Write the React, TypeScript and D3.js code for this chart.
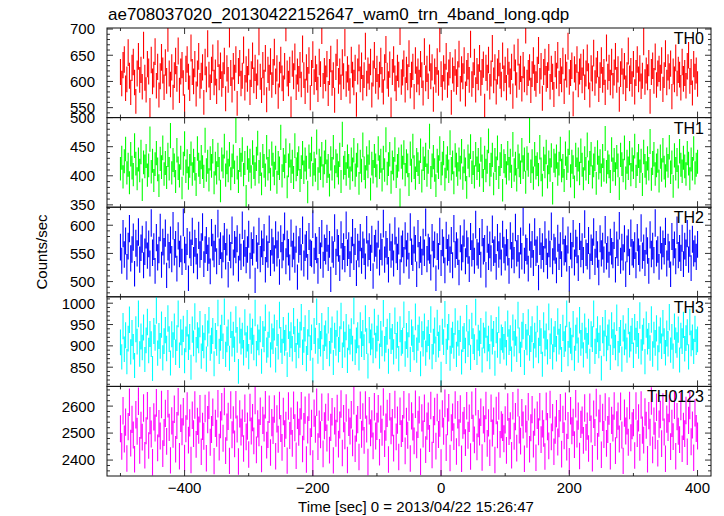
import React from "react";
import * as d3 from "d3";

const TITLE = "ae708037020_20130422152647_wam0_trn_4band_long.qdp";
const X_LABEL = "Time [sec] 0 = 2013/04/22 15:26:47";
const Y_LABEL = "Counts/sec";
const BIN_START = -500;
const BIN_END = 400;
const BIN_SIZE = 2;
const X_TICK_LABELS = [-400, -200, 0, 200, 400];

const TH0 = [
618,596,631,642,587,604,655,611,579,626,637,598,562,615,648,603,622,590,669,607,
584,633,619,545,641,600,613,657,592,628,574,610,646,621,589,636,601,683,615,594,
627,570,612,639,605,658,583,619,631,597,552,624,642,609,587,664,618,600,633,576,
615,648,592,611,627,560,637,604,672,613,589,622,645,598,617,581,653,608,630,595,
612,639,567,625,603,691,616,584,629,607,642,558,620,635,596,611,660,588,623,605,
637,579,614,649,602,626,591,617,676,609,583,631,598,644,565,622,607,638,593,618,
656,600,625,572,613,641,606,587,629,703,615,596,622,548,634,610,647,589,619,605,
631,594,662,612,581,627,603,640,569,616,651,599,624,608,585,637,614,698,592,620,
606,633,577,618,643,597,612,564,628,655,601,619,589,636,610,674,595,623,607,582,
641,613,598,626,556,619,645,604,630,588,612,667,596,621,609,637,574,615,650,601,
624,590,613,639,603,580,627,661,611,595,632,546,618,642,606,587,626,613,696,599,
617,634,584,622,608,653,592,613,628,571,640,604,619,598,633,612,578,657,606,624,
591,645,610,627,566,619,603,638,597,682,614,588,625,609,648,593,617,631,560,621,
605,636,599,614,652,586,623,610,640,576,616,629,603,671,595,612,637,584,620,608,
644,597,618,632,553,626,607,641,590,615,663,602,627,580,619,635,611,594,649,606,
622,588,638,613,600,628,572,645,617,593,656,609,624,586,631,604,699,598,616,627,
583,614,640,607,595,622,659,601,629,568,618,637,605,612,646,590,624,609,575,633,
611,650,596,620,604,639,581,627,613,667,599,616,630,557,623,608,642,594,619,628,
602,636,589,615,645,610,574,625,606,654,597,621,633,585,612,640,603,618,579,664,
609,626,598,637,592,617,648,603,623,566,614,638,600,629,587,612,658,606,620,595,
633,580,616,642,604,625,591,611,676,599,621,608,635,562,618,630,601,647,593,615,
624,607,640,585,612,653,598,627,610,634,571,619,604,645,596,622,613,588,637,605,
616,592,629,650,601,618,578,633,609,621,595];

const TH1 = [
412,431,398,425,446,405,419,388,437,414,402,452,421,395,428,409,441,376,423,416,
434,401,418,463,407,426,392,420,439,411,383,429,415,448,403,422,397,436,412,469,
405,427,418,390,444,413,400,431,379,421,455,408,425,396,417,438,403,426,412,385,
447,419,406,432,415,399,461,410,424,393,430,417,442,388,421,405,436,412,374,428,
416,451,401,423,409,437,395,418,433,406,478,414,390,427,419,445,402,422,365,431,
410,426,398,440,415,403,429,456,407,420,386,434,417,401,449,412,425,394,438,419,
404,431,389,422,413,466,400,427,416,443,381,418,435,408,424,397,452,411,420,430,
392,415,439,406,428,414,372,433,419,446,402,421,410,458,395,426,413,437,400,423,
441,408,417,384,430,412,449,398,425,418,405,436,390,471,414,422,403,433,417,396,
428,411,444,401,419,435,387,424,409,453,413,398,430,416,440,377,421,407,434,418,
400,447,415,426,393,431,410,462,404,420,437,389,423,412,445,399,417,428,359,433,
414,440,402,425,418,385,438,409,451,415,396,427,420,406,443,391,429,413,436,401,
424,468,397,418,432,410,383,426,415,447,404,421,439,394,416,430,408,457,412,423,
388,435,419,403,428,414,442,396,425,411,380,433,418,450,406,422,398,437,413,427,
401,445,416,392,431,409,424,460,402,419,436,386,427,413,448,397,420,434,375,425,
417,405,439,412,426,399,454,410,421,393,433,418,406,444,415,428,389,430,419,478,
408,425,396,437,414,420,402,449,411,384,429,416,441,398,423,410,435,370,426,418,
433,403,421,446,409,417,392,438,413,426,457,400,424,415,381,436,411,428,404,443,
419,395,430,412,453,406,422,437,398,418,429,387,440,414,425,401,434,410,464,407,
423,416,390,445,411,427,403,432,418,378,436,420,409,448,396,424,413,439,402,428,
415,451,399,420,434,408,426,385,441,417,405,430,412,459,394,422,437,403,418,426,
391,433,410,444,414,400,428,417,449,406,423,382,435,412,427,398,442,419,408,431,
416,403,439,421,395,428,412,447,405,419,424];

const TH2 = [
561,537,585,548,572,526,563,594,541,557,579,514,568,550,588,539,560,575,529,553,
583,546,567,532,604,551,562,519,578,543,556,596,530,570,554,586,511,561,547,574,
540,599,552,566,523,581,549,558,535,605,556,544,571,506,565,551,589,538,568,554,
527,582,548,562,597,531,557,573,542,555,518,587,561,549,577,536,603,553,564,529,
558,580,545,570,512,560,547,591,534,566,556,576,523,561,544,600,550,568,538,557,
584,528,564,552,574,502,559,546,589,540,567,553,578,521,558,548,593,533,570,555,
541,583,550,565,517,576,547,561,598,536,567,552,525,586,549,563,539,575,508,557,
571,543,591,532,560,566,526,580,551,549,602,537,562,556,519,573,546,585,530,560,
554,577,542,566,504,557,548,595,535,569,559,524,583,545,562,540,600,551,564,531,
556,587,544,571,515,561,549,578,537,565,553,527,592,550,562,542,575,510,559,568,
546,584,534,562,552,603,539,566,554,521,579,548,561,532,590,556,544,572,517,558,
567,538,581,550,563,528,597,553,542,574,559,513,585,547,557,535,570,551,605,540,
561,555,525,578,549,565,506,562,545,589,533,569,556,520,582,552,560,539,573,529,
594,548,564,553,516,576,543,558,586,536,567,555,522,580,550,562,537,601,552,546,
571,530,587,554,559,512,575,544,565,541,593,551,557,526,578,548,563,534,584,556,
543,569,552,519,581,547,563,538,596,550,559,529,572,545,606,537,560,554,523,579,
548,566,533,588,551,557,507,571,546,562,540,583,553,528,567,549,598,536,561,555,
520,577,544,564,531,590,552,558,541,574,505,563,547,585,534,568,556,524,580,549,
562,538,602,551,545,573,527,560,553,588,535,566,548,516,576,550,563,539,592,545,
557,530,570,554,547,582,521,565,551,599,537,561,543,576,513,558,569,535,586,552,
548,564,529,578,553,541,595,546,560,533,572,555,519,583,549,563,538,604,550,557,
526,574,545,567,554,589,532,561,548,513,580,552,565,536,591,547,559,542,577,531,
563,551,585,539,568,524,575,550,558,544,566];

const TH3 = [
908,874,946,892,925,863,917,961,886,930,898,854,939,910,975,881,922,896,943,868,
913,956,889,928,904,847,935,919,983,883,923,900,950,872,911,937,894,964,916,860,
927,902,945,885,918,975,878,932,908,940,865,915,953,897,921,850,938,906,969,891,
925,913,951,876,918,901,944,869,929,960,895,912,935,858,923,907,977,887,919,942,
899,980,880,915,931,871,949,905,926,892,962,914,840,936,910,924,884,955,902,917,
875,945,912,933,896,977,882,920,908,939,864,928,915,966,890,903,950,879,922,911,
943,867,930,898,972,914,887,937,907,919,856,947,904,925,893,958,916,877,933,901,
926,967,885,914,941,870,909,953,895,920,843,935,912,980,888,923,905,946,873,918,
929,899,960,882,912,938,861,924,907,952,891,916,970,878,927,903,944,866,920,910,
934,894,982,885,913,925,872,948,904,930,897,964,911,853,937,908,922,889,956,901,
917,942,876,928,906,976,893,914,933,864,946,911,921,886,959,900,926,870,939,907,
912,973,881,923,902,951,868,931,916,896,968,890,919,938,858,927,905,945,883,915,
930,898,962,875,910,936,892,954,903,918,834,933,909,974,887,921,944,871,912,926,
900,957,880,929,907,940,862,916,923,889,965,904,932,873,947,911,897,979,885,919,
906,935,867,924,913,950,894,917,875,941,910,928,859,937,902,961,888,920,914,898,
927,884,952,909,918,869,943,905,931,892,972,913,880,926,946,861,921,908,955,895,
916,939,877,924,903,963,889,930,911,857,948,906,922,886,968,899,934,874,915,928,
893,957,910,921,868,942,904,917,975,882,926,912,896,951,871,919,936,890,960,907,
924,879,945,913,900,933,864,927,916,975,887,911,939,901,918,848,937,906,953,894,
920,931,873,948,909,925,896,966,882,914,930,869,941,908,922,890,958,903,917,935,
878,944,912,928,900,971,886,919,934,863,950,910,923,895,962,881,926,907,941,872,
915,936,899,953,911,884,929,905,967,890,921,876,945,913,902,938,867,924,911,949,
893,918,932,874,956,906,920,887,940,909,915];

const TH0123 = [
2516,2451,2583,2478,2541,2406,2524,2614,2463,2551,2493,2403,2568,2507,2618,2436,2529,2485,2593,2418,
2509,2601,2454,2546,2497,2392,2560,2519,2612,2445,2535,2489,2606,2424,2502,2573,2469,2609,2521,2399,
2545,2496,2588,2440,2528,2616,2414,2555,2505,2579,2408,2516,2600,2474,2538,2400,2566,2498,2604,2458,
2543,2511,2590,2431,2525,2488,2591,2407,2550,2603,2466,2513,2577,2396,2536,2499,2609,2448,2531,2598,
2481,2617,2435,2522,2562,2397,2604,2494,2549,2460,2605,2515,2395,2571,2504,2537,2443,2592,2486,2526,
2421,2595,2508,2557,2471,2621,2438,2534,2501,2581,2404,2547,2519,2605,2455,2495,2588,2428,2539,2510,
2589,2414,2553,2477,2602,2517,2447,2580,2498,2529,2398,2600,2491,2544,2462,2603,2520,2416,2566,2503,
2542,2601,2441,2524,2585,2402,2512,2596,2468,2536,2388,2574,2514,2614,2450,2533,2494,2596,2423,2527,
2558,2482,2597,2437,2521,2579,2399,2545,2499,2591,2459,2530,2608,2426,2554,2490,2593,2400,2540,2508,
2568,2464,2620,2442,2518,2550,2411,2603,2496,2560,2473,2604,2515,2393,2583,2501,2534,2453,2598,2489,
2525,2590,2429,2552,2503,2615,2461,2522,2573,2402,2598,2509,2539,2444,2606,2486,2548,2411,2581,2498,
2517,2605,2434,2543,2492,2597,2406,2564,2523,2471,2607,2456,2532,2586,2394,2556,2497,2592,2439,2526,
2563,2480,2602,2419,2513,2580,2452,2595,2495,2537,2391,2571,2507,2610,2446,2542,2594,2408,2520,2559,
2487,2604,2432,2568,2501,2589,2405,2529,2546,2465,2601,2492,2555,2413,2603,2518,2475,2616,2449,2535,
2504,2577,2410,2549,2516,2602,2462,2538,2427,2592,2500,2544,2400,2584,2494,2600,2458,2531,2521,2479,
2549,2436,2597,2506,2527,2418,2601,2488,2561,2444,2613,2512,2470,2576,2530,2405,2553,2496,2598,2440,
2520,2587,2459,2541,2409,2566,2505,2598,2476,2534,2499,2413,2599,2524,2453,2606,2486,2557,2431,2511,
2572,2467,2535,2594,2422,2551,2490,2599,2448,2528,2396,2583,2509,2540,2457,2609,2497,2563,2415,2532,
2548,2473,2593,2484,2526,2443,2596,2515,2407,2570,2502,2613,2451,2537,2591,2420,2558,2495,2597,2462,
2513,2582,2414,2547,2519,2600,2435,2531,2563,2478,2599,2493,2397,2574,2508,2545,2466,2602,2483,2527,
2539,2417,2600,2498,2556,2447,2604,2511,2474,2578,2529,2403,2565,2503,2619,2438,2544,2490,2596,2425,
2533,2569,2461,2597,2504,2405,2552,2521,2591,2450,2536,2487,2603,2414,2561,2507,2476,2599,2442,2525,
2498,2584,2431,2547,2602,2468,2530,2409,2575,2517,2489];

const PANEL_NAMES = ["TH0", "TH1", "TH2", "TH3", "TH0123"];
const PANEL_VALUES = [TH0, TH1, TH2, TH3, TH0123];
const PANEL_COLORS = ["#ff0000", "#00ff00", "#0000ff", "#00ffff", "#ff00ff"];
const PANEL_DOMAINS: [number, number][] = [[531, 702], [346, 500], [473, 632], [805, 1015], [2341, 2673]];
const PANEL_MAJOR = [[550, 600, 650, 700], [350, 400, 450, 500], [500, 550, 600], [850, 900, 950, 1000], [2400, 2500, 2600]];
const PANEL_MINOR_STEP = [10, 10, 10, 10, 20];

const W = 724, H = 516;
const LEFT = 107, RIGHT = 711, TOP = 28, BOTTOM = 476;
const FONT = "'Liberation Sans', Arial, Helvetica, sans-serif";

export default function App() {
  const times = d3.range(BIN_START, BIN_END + 0.001, BIN_SIZE);
  const x = d3.scaleLinear().domain([-521, 421]).range([LEFT, RIGHT]);
  const ph = (BOTTOM - TOP) / PANEL_NAMES.length;
  const xMinor = d3.range(-500, 401, 100);

  return (
    <svg width={W} height={H} style={{ position: "absolute", left: 0, top: 0, background: "#fff" }}>
      <rect x={0} y={0} width={W} height={H} fill="#fff" />
      <defs>
        {PANEL_NAMES.map((n, i) => (
          <clipPath id={`clip${i}`} key={n}>
            <rect x={LEFT} y={TOP + i * ph} width={RIGHT - LEFT} height={ph} />
          </clipPath>
        ))}
      </defs>
      <text x={LEFT + 1} y={20} fontFamily={FONT} fontSize={17} fill="#000">{TITLE}</text>
      {PANEL_NAMES.map((name, i) => {
        const t = TOP + i * ph;
        const b = t + ph;
        const y = d3.scaleLinear().domain(PANEL_DOMAINS[i]).range([b, t]);
        const vals = PANEL_VALUES[i];
        // Poisson error bars (1-sigma) on each bin, as drawn by QDP
        const bars = vals
          .map((v, k) => {
            const e = Math.sqrt(v);
            const xx = x(times[k]);
            return `M${xx.toFixed(2)},${y(v - e).toFixed(2)}V${y(v + e).toFixed(2)}`;
          })
          .join("");
        const [lo, hi] = PANEL_DOMAINS[i];
        const step = PANEL_MINOR_STEP[i];
        const minors = d3.range(Math.ceil(lo / step) * step, hi + 0.001, step).filter((v) => !PANEL_MAJOR[i].includes(v));
        return (
          <g key={name}>
            <path d={bars} fill="none" stroke={PANEL_COLORS[i]} strokeWidth={1.1} clipPath={`url(#clip${i})`} />
            {PANEL_MAJOR[i].map((v) => (
              <g key={"M" + v}>
                <line x1={LEFT} x2={LEFT + 6} y1={y(v)} y2={y(v)} stroke="#333" />
                <line x1={RIGHT} x2={RIGHT - 6} y1={y(v)} y2={y(v)} stroke="#333" />
                <text x={95} y={y(v)} dy="0.36em" textAnchor="end" fontFamily={FONT} fontSize={15} fill="#000">{v}</text>
              </g>
            ))}
            {minors.map((v) => (
              <g key={"m" + v}>
                <line x1={LEFT} x2={LEFT + 3} y1={y(v)} y2={y(v)} stroke="#333" />
                <line x1={RIGHT} x2={RIGHT - 3} y1={y(v)} y2={y(v)} stroke="#333" />
              </g>
            ))}
            {xMinor.map((v) => {
              const len = v % 200 === 0 ? 6 : 3;
              return (
                <g key={"x" + v}>
                  <line x1={x(v)} x2={x(v)} y1={t} y2={t + len} stroke="#333" />
                  <line x1={x(v)} x2={x(v)} y1={b} y2={b - len} stroke="#333" />
                </g>
              );
            })}
            <rect x={LEFT} y={t} width={RIGHT - LEFT} height={ph} fill="none" stroke="#111" strokeWidth={1} />
            <text x={RIGHT - 7} y={t + 16} textAnchor="end" fontFamily={FONT} fontSize={16} fill="#000">{name}</text>
          </g>
        );
      })}
      {X_TICK_LABELS.map((v) => (
        <text key={v} x={x(v)} y={BOTTOM + 17} textAnchor="middle" fontFamily={FONT} fontSize={15} fill="#000">
          {v < 0 ? "\u2212" + Math.abs(v) : String(v)}
        </text>
      ))}
      <text x={(LEFT + RIGHT) / 2 + 7} y={BOTTOM + 36} textAnchor="middle" fontFamily={FONT} fontSize={15} fill="#000">{X_LABEL}</text>
      <text transform={`translate(47,${(TOP + BOTTOM) / 2}) rotate(-90)`} textAnchor="middle" fontFamily={FONT} fontSize={15} fill="#000">{Y_LABEL}</text>
    </svg>
  );
}
